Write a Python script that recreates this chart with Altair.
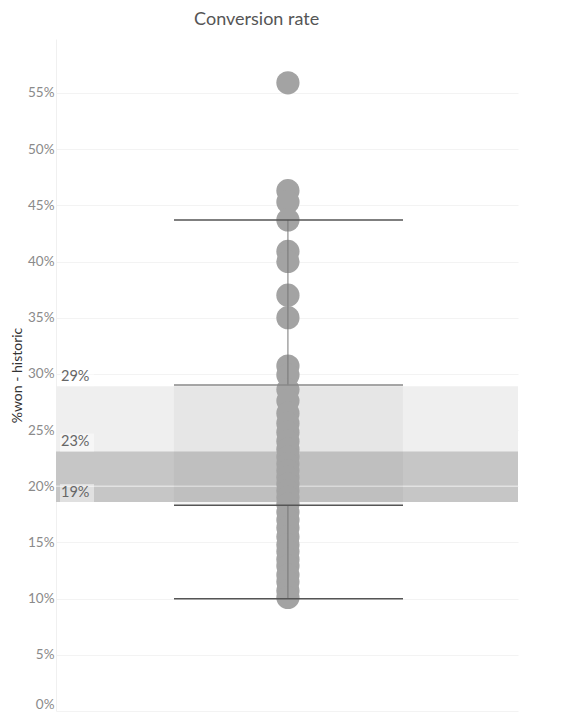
import altair as alt
import pandas as pd

# Point values (% won - historic)
rates = [55.9, 46.3, 45.3, 43.7, 40.9, 40.0, 37.0, 35.0, 30.7, 29.9,
         28.6, 27.6, 26.5, 25.6, 24.8, 24.0, 23.3, 22.6, 22.0, 21.4,
         20.8, 20.2, 19.6, 19.0, 18.4, 17.7, 17.0, 16.3, 15.5, 14.8,
         14.2, 13.5, 12.9, 12.1, 11.5, 10.7, 10.1]

# Box-plot statistics
whisker_low, q1, q3, whisker_high = 10.0, 18.3, 29.0, 43.7
median_line = 20.0

# Reference bands / labels
band_light = (18.6, 28.9)
band_dark = (18.6, 23.1)
band_labels = ["29%", "23%", "19%"]
band_label_vals = [28.9, 23.1, 18.6]

y_ticks = [0, 5, 10, 15, 20, 25, 30, 35, 40, 45, 50, 55]

pts = pd.DataFrame({"x": [0.502] * len(rates), "rate": [r / 100 for r in rates]})
bands = pd.DataFrame({
    "y": [band_light[0] / 100, band_dark[0] / 100],
    "y2": [band_light[1] / 100, band_dark[1] / 100],
    "c": ["#efefef", "#c6c6c6"],
})
box = pd.DataFrame({"x": [0.255], "x2": [0.751], "y": [q1 / 100], "y2": [q3 / 100]})
hlines = pd.DataFrame({
    "y": [whisker_low / 100, q1 / 100, q3 / 100, whisker_high / 100],
    "c": ["#555555", "#555555", "#888888", "#555555"],
})
vlines = pd.DataFrame({"x": [0.502, 0.502], "y": [whisker_low / 100, q3 / 100],
                       "y2": [q1 / 100, whisker_high / 100]})
labels = pd.DataFrame({"t": band_labels, "y": [v / 100 for v in band_label_vals]})

xs = alt.Scale(domain=[0, 1])
ys = alt.Scale(domain=[0, 0.598], nice=False, zero=True)

yaxis = alt.Axis(values=[v / 100 for v in y_ticks], format=".0%", title="%won - historic",
                 grid=True, gridColor="#f3f3f3", ticks=False, domain=True, domainColor="#f0f0f0",
                 labelColor="#8a8a8a", labelFontSize=13.5, labelPadding=2, labelFlush=True,
                 titleColor="#333333", titleFontSize=14, titleFontWeight="normal", titlePadding=3,
                 labelFont="Lato", titleFont="Lato")

band_layer = alt.Chart(bands).mark_rect().encode(
    x=alt.value(0), x2=alt.value(462),
    y=alt.Y("y:Q", scale=ys, axis=yaxis), y2="y2:Q",
    color=alt.Color("c:N", scale=None),
)
median_layer = alt.Chart(pd.DataFrame({"y": [median_line / 100]})).mark_rule(
    color="#e2e2e2", strokeWidth=1.5).encode(
    x=alt.value(0), x2=alt.value(462), y=alt.Y("y:Q", scale=ys))
label_bg = alt.Chart(labels).mark_rect(color="#ffffff", opacity=0.45).encode(
    x=alt.value(4), x2=alt.value(38),
    y=alt.Y("y:Q", scale=ys), y2=alt.Y2("y2:Q"),
).transform_calculate(y2="datum.y + 0.016")
label_layer = alt.Chart(labels).mark_text(
    align="left", baseline="bottom", dx=0, dy=-2, fontSize=14.5, color="#666666", font="Lato").encode(
    x=alt.value(5), y=alt.Y("y:Q", scale=ys), text="t:N")
box_layer = alt.Chart(box).mark_rect(color="#000000", opacity=0.035).encode(
    x=alt.X("x:Q", scale=xs, axis=None), x2="x2:Q",
    y=alt.Y("y:Q", scale=ys), y2="y2:Q")
point_layer = alt.Chart(pts).mark_circle(size=540, color="#a3a3a3", opacity=1).encode(
    x=alt.X("x:Q", scale=xs, axis=None),
    y=alt.Y("rate:Q", scale=ys))
vline_layer = alt.Chart(vlines).mark_rule(color="#777777", strokeWidth=1).encode(
    x=alt.X("x:Q", scale=xs, axis=None),
    y=alt.Y("y:Q", scale=ys), y2="y2:Q")
hline_layer = alt.Chart(hlines).mark_rule(strokeWidth=1.5).encode(
    x=alt.value(118), x2=alt.value(347),
    y=alt.Y("y:Q", scale=ys),
    color=alt.Color("c:N", scale=None))

chart = alt.layer(band_layer, median_layer, label_bg, label_layer, box_layer,
                  point_layer, vline_layer, hline_layer).properties(
    width=462, height=672,
    padding={"left": 2, "top": 3, "right": 5, "bottom": 5},
    title=alt.TitleParams("Conversion rate", fontSize=18, font="Lato", fontWeight="normal",
                          color="#555555", anchor="middle", frame="bounds", offset=10, dx=-8),
).configure_view(strokeWidth=0, stroke="transparent")

chart.save("out.html", embed_options={"renderer": "svg", "actions": False})
